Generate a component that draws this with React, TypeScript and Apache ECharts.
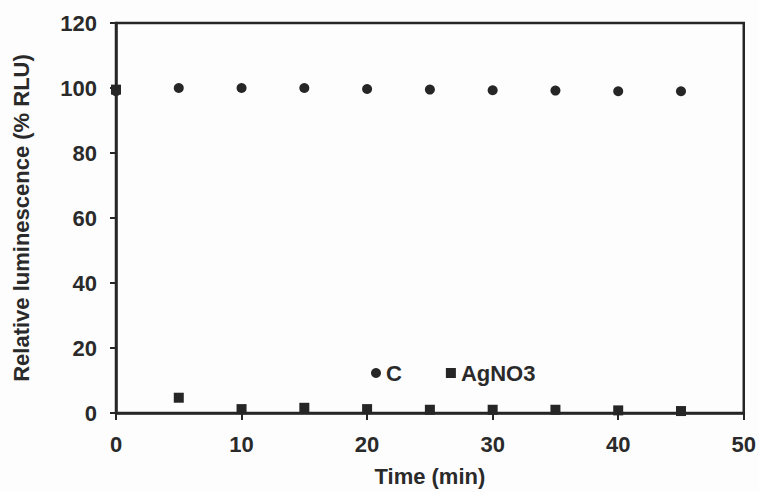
import React, { useEffect, useRef } from "react";
import * as echarts from "echarts";

const times = [0, 5, 10, 15, 20, 25, 30, 35, 40, 45];
const cValues = [99, 100, 100, 100, 99.7, 99.5, 99.3, 99.2, 99.0, 99.0];
const agno3Values = [99.5, 4.7, 1.2, 1.6, 1.2, 1.0, 1.0, 1.0, 0.8, 0.6];
const seriesNames = ["C", "AgNO3"];
const xTitle = "Time (min)";
const yTitle = "Relative luminescence (% RLU)";

const FONT = "'Liberation Sans', Arial, sans-serif";
const INK = "#262626";

export default function App() {
  const ref = useRef<HTMLDivElement>(null);
  useEffect(() => {
    if (!ref.current) return;
    const chart = echarts.init(ref.current, undefined, { renderer: "svg" });
    const textStyle = { fontFamily: FONT, fontWeight: "bold" as const, fontSize: 22, color: "#2a2a2a" };
    chart.setOption({
      animation: false,
      backgroundColor: "#fdfdfd",
      grid: {
        left: 116,
        right: 15,
        top: 23,
        bottom: 76,
        show: true,
        borderColor: INK,
        borderWidth: 2.5,
        backgroundColor: "transparent",
      },
      legend: {
        left: 366,
        top: 357,
        itemGap: 44,
        itemWidth: 10,
        itemHeight: 10,
        textStyle: { ...textStyle, padding: [0, 0, 0, 0] },
        data: [
          { name: seriesNames[0], icon: "circle" },
          { name: seriesNames[1], icon: "rect" },
        ],
      },
      xAxis: {
        type: "value",
        min: 0,
        max: 50,
        interval: 10,
        name: xTitle,
        nameLocation: "middle",
        nameGap: 52,
        nameTextStyle: textStyle,
        axisLine: { show: true, lineStyle: { color: INK, width: 2.5 } },
        axisTick: { show: true, inside: false, length: 7, lineStyle: { color: INK, width: 2 } },
        axisLabel: { ...textStyle, margin: 20 },
        splitLine: { show: false },
      },
      yAxis: {
        type: "value",
        min: 0,
        max: 120,
        interval: 20,
        name: yTitle,
        nameLocation: "middle",
        nameGap: 84,
        nameTextStyle: textStyle,
        axisLine: { show: true, lineStyle: { color: INK, width: 2.5 } },
        axisTick: { show: true, inside: false, length: 6, lineStyle: { color: INK, width: 2 } },
        axisLabel: { ...textStyle, margin: 19 },
        splitLine: { show: false },
      },
      series: [
        {
          name: seriesNames[0],
          type: "scatter",
          symbol: "circle",
          symbolSize: 10,
          clip: false,
          itemStyle: { color: INK, opacity: 1 },
          data: times.map((t, i) => [t, cValues[i]]),
        },
        {
          name: seriesNames[1],
          type: "scatter",
          symbol: "rect",
          symbolSize: 10,
          clip: false,
          itemStyle: { color: INK, opacity: 1 },
          data: times.map((t, i) => [t, agno3Values[i]]),
        },
      ],
    });
    return () => chart.dispose();
  }, []);
  return <div ref={ref} style={{ width: 759, height: 492, position: "absolute", left: 0, top: 0 }} />;
}
